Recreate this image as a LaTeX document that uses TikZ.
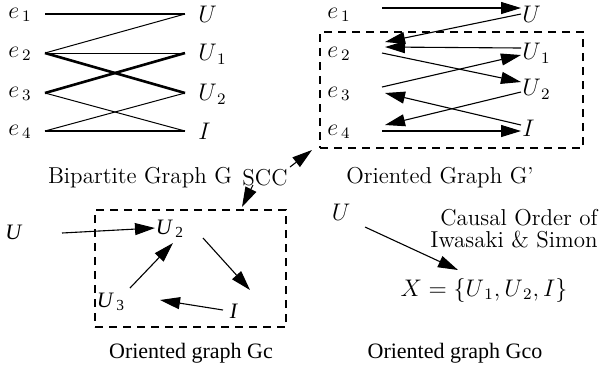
\documentclass[tikz,border=0pt]{standalone}
\usepackage{fontspec}
\newfontfamily\timesfont{Liberation Serif}
\usetikzlibrary{arrows.meta}
\tikzset{
  thinedge/.style={line width=0.5pt},
  thickedge/.style={line width=1.3pt},
  arr/.style={line width=0.55pt,-{Triangle[length=10pt,width=6pt]}},
  box/.style={draw,dashed,line width=0.55pt,dash pattern=on 4pt off 3pt},
  lbl/.style={inner sep=0pt,font=\fontsize{11.5}{13}\selectfont},
  tlbl/.style={inner sep=0pt,font=\fontsize{11}{13}\selectfont\timesfont},
}
\begin{document}
\begin{tikzpicture}[x=0.5pt,y=-0.5pt]
\path[use as bounding box] (0,0) rectangle (605,372);

% ---------- Bipartite graph G ----------
\node[lbl,anchor=east] (be1) at (32,15) {$e_{\,1}$};
\node[lbl,anchor=east] (be2) at (32,54) {$e_{\,2}$};
\node[lbl,anchor=east] (be3) at (32,94) {$e_{\,3}$};
\node[lbl,anchor=east] (be4) at (32,132) {$e_{\,4}$};
\node[lbl,anchor=west] (bU) at (198,14) {$U$};
\node[lbl,anchor=west] (bU1) at (198,54) {$U_{\,1}$};
\node[lbl,anchor=west] (bU2) at (198,94) {$U_{\,2}$};
\node[lbl,anchor=west] (bI) at (198,131) {$I$};
\coordinate (l1) at (45,14);
\coordinate (l2) at (45,53);
\coordinate (l3) at (45,93);
\coordinate (l4) at (45,131);
\coordinate (r1) at (185,14);
\coordinate (r2) at (185,53);
\coordinate (r3) at (185,93);
\coordinate (r4) at (185,131);
\draw[thickedge] (l1) -- (r1);
\draw[thinedge] (l2) -- (r1);
\draw[thinedge] (l2) -- (r2);
\draw[thickedge] (l2) -- (r3);
\draw[thickedge] (l3) -- (r2);
\draw[thinedge] (l3) -- (r4);
\draw[thinedge] (l4) -- (r3);
\draw[thickedge] (l4) -- (r4);
\node[lbl] (capG) at (140,178) {Bipartite Graph G};

% ---------- Oriented graph G' ----------
\node[box,minimum width=131.5pt,minimum height=58pt,inner sep=0pt] (boxG) at (451.5,90) {};
\node[lbl] (oe1) at (339,15) {$e_{\,1}$};
\node[lbl] (oe2) at (339,54) {$e_{\,2}$};
\node[lbl] (oe3) at (339,94) {$e_{\,3}$};
\node[lbl] (oe4) at (339,132) {$e_{\,4}$};
\node[lbl,anchor=west] (oU) at (522,14) {$U$};
\node[lbl,anchor=west] (oU1) at (522,53) {$U_{\,1}$};
\node[lbl,anchor=west] (oU2) at (522,89) {$U_{\,2}$};
\node[lbl,anchor=west] (oI) at (522,128) {$I$};
\coordinate (p1) at (382,8);   \coordinate (q1) at (521,8);
\coordinate (p2) at (521,14);  \coordinate (q2) at (385,42);
\coordinate (p3) at (521,48);  \coordinate (q3) at (385,47);
\coordinate (p4) at (382,53);  \coordinate (q4) at (521,82);
\coordinate (p5) at (382,87);  \coordinate (q5) at (521,55);
\coordinate (p6) at (521,125); \coordinate (q6) at (385,93);
\coordinate (p7) at (521,92);  \coordinate (q7) at (385,125);
\coordinate (p8) at (382,131); \coordinate (q8) at (521,131);
\draw[arr] (p1) -- (q1);
\draw[arr] (p2) -- (q2);
\draw[arr] (p3) -- (q3);
\draw[arr] (p4) -- (q4);
\draw[arr] (p5) -- (q5);
\draw[arr] (p6) -- (q6);
\draw[arr] (p7) -- (q7);
\draw[arr] (p8) -- (q8);
\node[lbl] (capO) at (440,178) {Oriented Graph G'};

% ---------- SCC ----------
\node[lbl] (scc) at (265,178) {SCC};
\coordinate (sccA) at (290,167);
\coordinate (sccB) at (312,150);
\coordinate (sccC) at (253,185);
\coordinate (sccD) at (242,207);
\draw[arr] (sccA) -- (sccB);
\draw[arr] (sccC) -- (sccD);

% ---------- Oriented graph Gc ----------
\node[box,minimum width=95.5pt,minimum height=58.5pt,inner sep=0pt] (boxGc) at (190.5,268.5) {};
\node[tlbl] (cU) at (14,232) {\textit{U}};
\node[tlbl] (cU2) at (170,229) {\textit{U}\textsubscript{\,2}};
\node[tlbl] (cU3) at (111,302) {\textit{U}\textsubscript{\,3}};
\node[tlbl] (cI) at (234,311) {\textit{I}};
\coordinate (c1) at (62,233);  \coordinate (d1) at (155,228);
\coordinate (c2) at (130,288); \coordinate (d2) at (173,243);
\coordinate (c3) at (203,238); \coordinate (d3) at (250,290);
\coordinate (c4) at (223,310); \coordinate (d4) at (160,300);
\draw[arr] (c1) -- (d1);
\draw[arr] (c2) -- (d2);
\draw[arr] (c3) -- (d3);
\draw[arr] (c4) -- (d4);
\node[tlbl] (capGc) at (191,353) {Oriented graph Gc};

% ---------- Oriented graph Gco ----------
\node[lbl] (gU) at (341,212) {$U$};
\node[lbl,anchor=east] (co1) at (598,218) {Causal Order of};
\node[lbl,anchor=east] (co2) at (598,240) {Iwasaki \& Simon};
\node[lbl] (gX) at (484,290) {$X=\{U_{\,1},U_{\,2},I\}$};
\coordinate (g1) at (365,227); \coordinate (h1) at (458,270);
\draw[arr] (g1) -- (h1);
\node[tlbl] (capGco) at (455,353) {Oriented graph Gco};
\end{tikzpicture}
\end{document}
